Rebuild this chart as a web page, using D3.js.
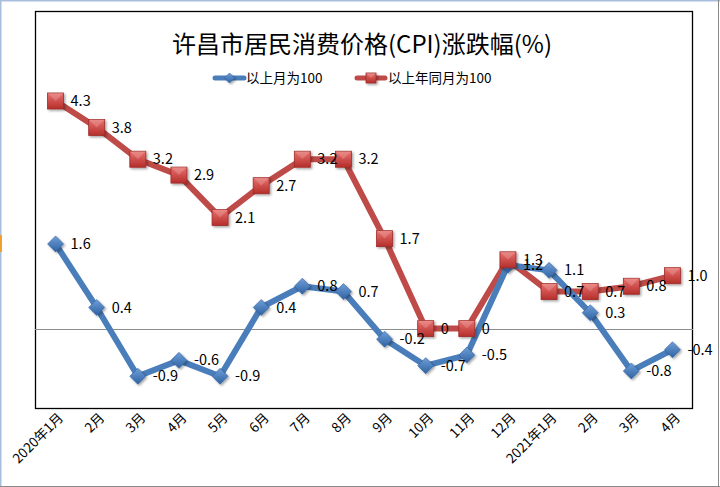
<!DOCTYPE html>
<html><head><meta charset="utf-8">
<script src="https://cdn.jsdelivr.net/npm/d3@7"></script>
<style>body{margin:0;background:#fff}svg{display:block}</style>
</head><body>
<svg id="c" width="720" height="487"></svg>
<script>
const categories = ["2020年1月","2月","3月","4月","5月","6月","7月","8月","9月","10月","11月","12月","2021年1月","2月","3月","4月"];
const momValues = [1.6,0.4,-0.9,-0.6,-0.9,0.4,0.8,0.7,-0.2,-0.7,-0.5,1.2,1.1,0.3,-0.8,-0.4];
const yoyValues = [4.3,3.8,3.2,2.9,2.1,2.7,3.2,3.2,1.7,0,0,1.3,0.7,0.7,0.8,1.0];
const seriesNames = ["以上月为100","以上年同月为100"];
const titleText = "许昌市居民消费价格(CPI)涨跌幅(%)";

const svg = d3.select("#c");
const font = "'Microsoft YaHei','Noto Sans CJK SC',sans-serif";
const defs = svg.append("defs");
const rg = defs.append("linearGradient").attr("id","rg").attr("x1",0).attr("y1",0).attr("x2",0).attr("y2",1);
rg.append("stop").attr("offset","0%").attr("stop-color","#e8716e");
rg.append("stop").attr("offset","100%").attr("stop-color","#b52e2b");
const bg = defs.append("linearGradient").attr("id","bg").attr("x1",0).attr("y1",0).attr("x2",0).attr("y2",1);
bg.append("stop").attr("offset","0%").attr("stop-color","#6f9fd8");
bg.append("stop").attr("offset","100%").attr("stop-color","#2f62a3");
const sh = defs.append("filter").attr("id","sh").attr("x","-50%").attr("y","-50%").attr("width","200%").attr("height","200%");
sh.append("feDropShadow").attr("dx",1.5).attr("dy",1.5).attr("stdDeviation",1).attr("flood-color","#000").attr("flood-opacity",0.35);

// outer frame
svg.append("line").attr("x1",0.5).attr("y1",0).attr("x2",0.5).attr("y2",487).attr("stroke","#a7bfdc").attr("stroke-width",2);
svg.append("line").attr("x1",0).attr("y1",0.5).attr("x2",720).attr("y2",0.5).attr("stroke","#a7bfdc").attr("stroke-width",2);
svg.append("line").attr("x1",718.5).attr("y1",0).attr("x2",718.5).attr("y2",487).attr("stroke","#8a8a8a");
svg.append("line").attr("x1",0).attr("y1",486.5).attr("x2",720).attr("y2",486.5).attr("stroke","#8a8a8a");
svg.append("rect").attr("x",0).attr("y",235).attr("width",2).attr("height",17).attr("fill","#f0a030");

const L = 35, R = 693, T = 11, B = 408;
const idx = d3.range(categories.length);
const x = d3.scaleBand().domain(idx).range([L,R]);
const y = d3.scaleLinear().domain([-1.5,6]).range([B,T]);
const cx = i => x(i) + x.bandwidth()/2;

svg.append("rect").attr("x",L+0.5).attr("y",T+0.5).attr("width",R-L-1).attr("height",B-T).attr("fill","none").attr("stroke","#000").attr("stroke-width",1.3);
svg.append("line").attr("x1",L).attr("x2",R).attr("y1",Math.round(y(0))+0.5).attr("y2",Math.round(y(0))+0.5).attr("stroke","#8c8c8c").attr("stroke-width",1);

// title
svg.append("text").attr("x",362).attr("y",53).attr("text-anchor","middle").attr("font-family",font).attr("font-size",24).attr("fill","#000").text(titleText);

// x axis labels
const xAxis = d3.axisBottom(x).tickSize(0).tickPadding(0).tickFormat(i=>categories[i]);
const gx = svg.append("g").attr("transform",`translate(0,${B})`).call(xAxis);
gx.select(".domain").remove();
gx.selectAll("text").attr("font-family",font).attr("font-size",13.5).attr("fill","#000")
  .attr("text-anchor","end").attr("dy",0).attr("y",0)
  .attr("transform","translate(6,8) rotate(-45)").attr("dominant-baseline","middle");

const line = d3.line().x((d,i)=>cx(i)).y(d=>y(d));
const blue = "#4a7ebb", red = "#be4b48";
svg.append("path").datum(yoyValues).attr("d",line).attr("fill","none").attr("stroke",red).attr("stroke-width",6).attr("stroke-linejoin","round");
svg.append("path").datum(momValues).attr("d",line).attr("fill","none").attr("stroke",blue).attr("stroke-width",6).attr("stroke-linejoin","round");

function square(g, px, py, s){
  g.append("rect").attr("x",px-s/2).attr("y",py-s/2).attr("width",s).attr("height",s).attr("fill","url(#rg)").attr("stroke","#9e2b28").attr("stroke-width",0.8).attr("filter","url(#sh)");
  g.append("path").attr("d",`M${px-s/2},${py-s/2}L${px},${py}L${px+s/2},${py-s/2}Z`).attr("fill","#fff").attr("opacity",0.18);
}
function diamond(g, px, py, s){
  const h=s/2;
  g.append("path").attr("d",`M${px},${py-h}L${px+h},${py}L${px},${py+h}L${px-h},${py}Z`).attr("fill","url(#bg)").attr("stroke","#2f5f9e").attr("stroke-width",0.6).attr("filter","url(#sh)");
}
const fmt = v => v === 0 ? "0" : v.toFixed(1);

const gm = svg.append("g");
momValues.forEach((v,i)=>diamond(gm, cx(i), y(v), 16));
const gr = svg.append("g");
yoyValues.forEach((v,i)=>square(gr, cx(i), y(v), 16));

const lab = svg.append("g").attr("font-family",font).attr("font-size",14.5).attr("fill","#000");
yoyValues.forEach((v,i)=>lab.append("text").attr("x",cx(i)+15).attr("y",y(v)).attr("dy","0.35em").text(fmt(v)));
momValues.forEach((v,i)=>lab.append("text").attr("x",cx(i)+15).attr("y",y(v)).attr("dy","0.35em").text(fmt(v)));

// legend
const lg = svg.append("g");
lg.append("line").attr("x1",215).attr("x2",244).attr("y1",78).attr("y2",78).attr("stroke",blue).attr("stroke-width",5).attr("stroke-linecap","round");
diamond(lg,229.5,78,10);
lg.append("text").attr("x",246).attr("y",78).attr("dy","0.35em").attr("font-family",font).attr("font-size",13.5).text(seriesNames[0]);
lg.append("line").attr("x1",357).attr("x2",385).attr("y1",78).attr("y2",78).attr("stroke",red).attr("stroke-width",5).attr("stroke-linecap","round");
square(lg,371,78,10);
lg.append("text").attr("x",388).attr("y",78).attr("dy","0.35em").attr("font-family",font).attr("font-size",13.5).text(seriesNames[1]);
</script>
</body></html>
